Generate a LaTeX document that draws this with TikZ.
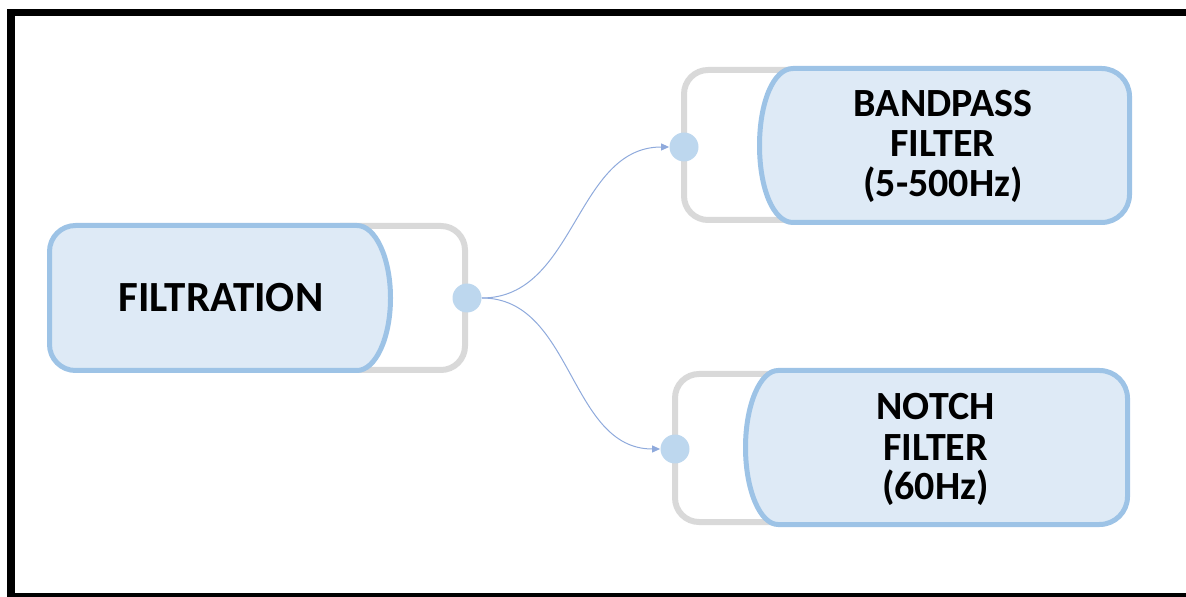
\documentclass[tikz,border=0pt]{standalone}
\usepackage{fontspec}
\setmainfont{Carlito}
\usepackage{xcolor}
\usepackage{tikz}
\usetikzlibrary{arrows.meta}
\definecolor{cEdge}{HTML}{9DC3E6}
\definecolor{cFill}{HTML}{DEEAF6}
\definecolor{cTray}{HTML}{D9D9D9}
\definecolor{cPort}{HTML}{BDD7EE}
\definecolor{cConn}{HTML}{8FAADC}

\begin{document}
\begin{tikzpicture}[
  x=0.5pt, y=-0.5pt,
  font=\fontsize{20pt}{20pt}\selectfont\bfseries,
  blob/.style={draw=cEdge, fill=cFill, line width=2.5pt, line join=round},
  tray/.style={draw=cTray, line width=3pt, rounded corners=12pt},
  port/.style={circle, fill=cPort, inner sep=0pt, minimum size=14.5pt},
  conn/.style={-{Triangle[length=4pt, width=3.5pt]}, line width=0.5pt, cConn},
  lab/.style={align=center, anchor=base, inner sep=0pt},
]
\useasboundingbox (0,0) rectangle (1186,597);

% ── frame ─────────────────────────────────────────────────────────────────
\fill[black] (7,9) rectangle (15,597);
\fill[black] (7,9) rectangle (1186,16);
\fill[black] (7,593) rectangle (1186,597);

% ── filtration ────────────────────────────────────────────────────────────
\draw[tray] (340,226) -- (465,226) -- (465,370) -- (340,370);
\draw[blob] (357,225.5) .. controls (375.5,225.5) and (390.5,258) .. (390.5,298)
  .. controls (390.5,338) and (375.5,370.5) .. (357,370.5) -- (75.5,370.5)
  .. controls (61.1,370.5) and (49.5,358.9) .. (49.5,344.5) -- (49.5,251.5)
  .. controls (49.5,237.1) and (61.1,225.5) .. (75.5,225.5) -- cycle;
\node[lab, font=\fontsize{21.5pt}{21.5pt}\selectfont\bfseries] (filt) at (221,312) {FILTRATION};

% ── bandpass ──────────────────────────────────────────────────────────────
\draw[tray] (800,70) -- (684,70) -- (684,220) -- (800,220);
\draw[blob] (793,68.5) .. controls (773.1,68.5) and (759.5,103) .. (759.5,145.5)
  .. controls (759.5,188) and (773.1,222.5) .. (793,222.5) -- (1101.5,222.5)
  .. controls (1117,222.5) and (1129.5,210) .. (1129.5,194.5) -- (1129.5,96.5)
  .. controls (1129.5,81) and (1117,68.5) .. (1101.5,68.5) -- cycle;
\node[lab] (bp) at (943,197) {BANDPASS\\FILTER\\(5-500Hz)};

% ── notch ─────────────────────────────────────────────────────────────────
\draw[tray] (790,374) -- (675,374) -- (675,522) -- (790,522);
\draw[blob] (778,370.5) .. controls (760.1,370.5) and (745.5,405) .. (745.5,447.5)
  .. controls (745.5,490) and (760.1,524.5) .. (778,524.5) -- (1099.5,524.5)
  .. controls (1115,524.5) and (1127.5,512) .. (1127.5,496.5) -- (1127.5,398.5)
  .. controls (1127.5,383) and (1115,370.5) .. (1099.5,370.5) -- cycle;
\node[lab] (nf) at (935.5,500) {NOTCH\\FILTER\\(60Hz)};

% ── ports and arrows ──────────────────────────────────────────────────────
\node[port] (p0) at (467,298) {};
\node[port] (p1) at (684,147) {};
\node[port] (p2) at (675,449) {};
\draw[conn] (p0.east) to[out=0, in=180] (p1.west);
\draw[conn] (p0.east) to[out=0, in=180] (p2.west);
\end{tikzpicture}
\end{document}
